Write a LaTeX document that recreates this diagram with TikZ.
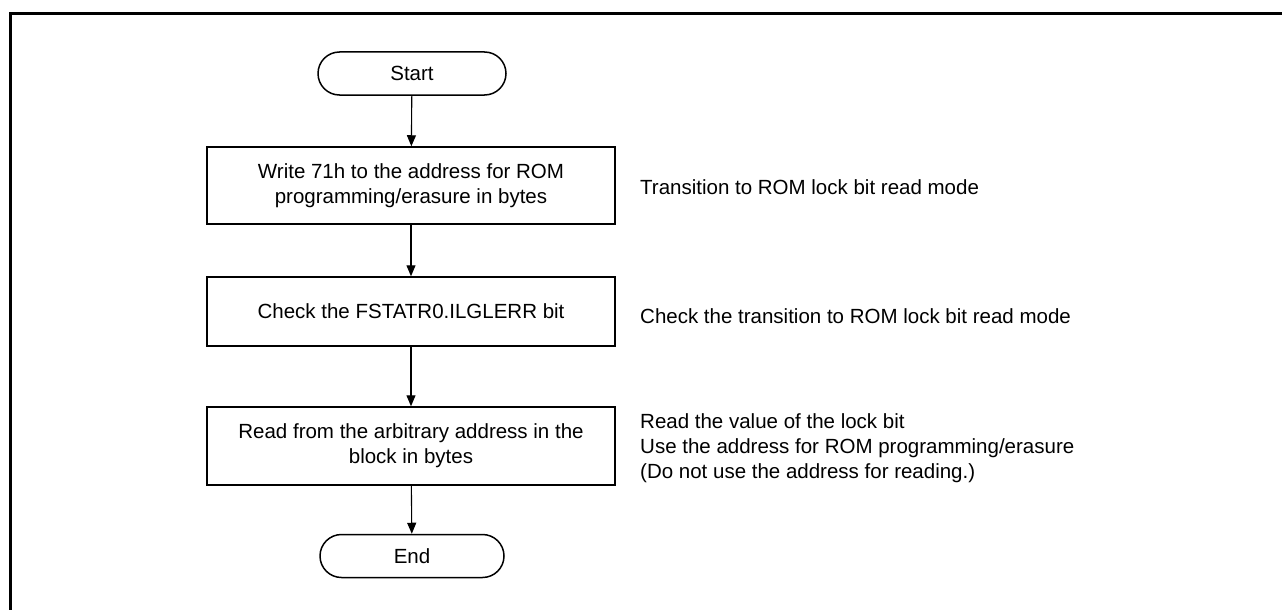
\documentclass[tikz,border=0pt]{standalone}
\usepackage{fontspec}
\setmainfont{Liberation Sans}
\usetikzlibrary{arrows.meta}
\begin{document}
\begin{tikzpicture}[x=1pt,y=-1pt,
  every node/.style={font=\fontsize{20.5}{25}\selectfont, inner sep=0pt},
  procbox/.style={draw, line width=1.5pt, minimum width=408pt, minimum height=77pt, align=center},
  term/.style={draw, line width=1.5pt, minimum width=188pt, minimum height=43pt, rounded corners=21.5pt},
  note/.style={anchor=west, align=left},
  flow/.style={line width=1.1pt, -{Triangle[length=11pt,width=9pt]}}
]
\useasboundingbox (0,0) rectangle (1282,610);
\draw[line width=3pt] (10.5,615) -- (10.5,13.5) -- (1290,13.5);

\node[term] (start) at (412,73.5) {Start};
\node[procbox] (b1) at (411,185.5) {Write 71h to the address for ROM\\programming/erasure in bytes};
\node[procbox, minimum height=69pt] (b2) at (411,311.5) {Check the FSTATR0.ILGLERR bit};
\node[procbox, minimum height=78pt] (b3) at (411,446) {Read from the arbitrary address in the\\block in bytes};
\node[term, minimum width=184pt] (end) at (412,556) {End};

\node[note] (n1) at (640,187) {Transition to ROM lock bit read mode};
\node[note] (n2) at (640,316) {Check the transition to ROM lock bit read mode};
\node[note] (n3) at (640,448) {Read the value of the lock bit\\Use the address for ROM programming/erasure\\(Do not use the address for reading.)};

\draw[flow] (start) -- (b1);
\draw[flow] (b1) -- (b2);
\draw[flow] (b2) -- (b3);
\draw[flow] (b3) -- (end);
\end{tikzpicture}
\end{document}
